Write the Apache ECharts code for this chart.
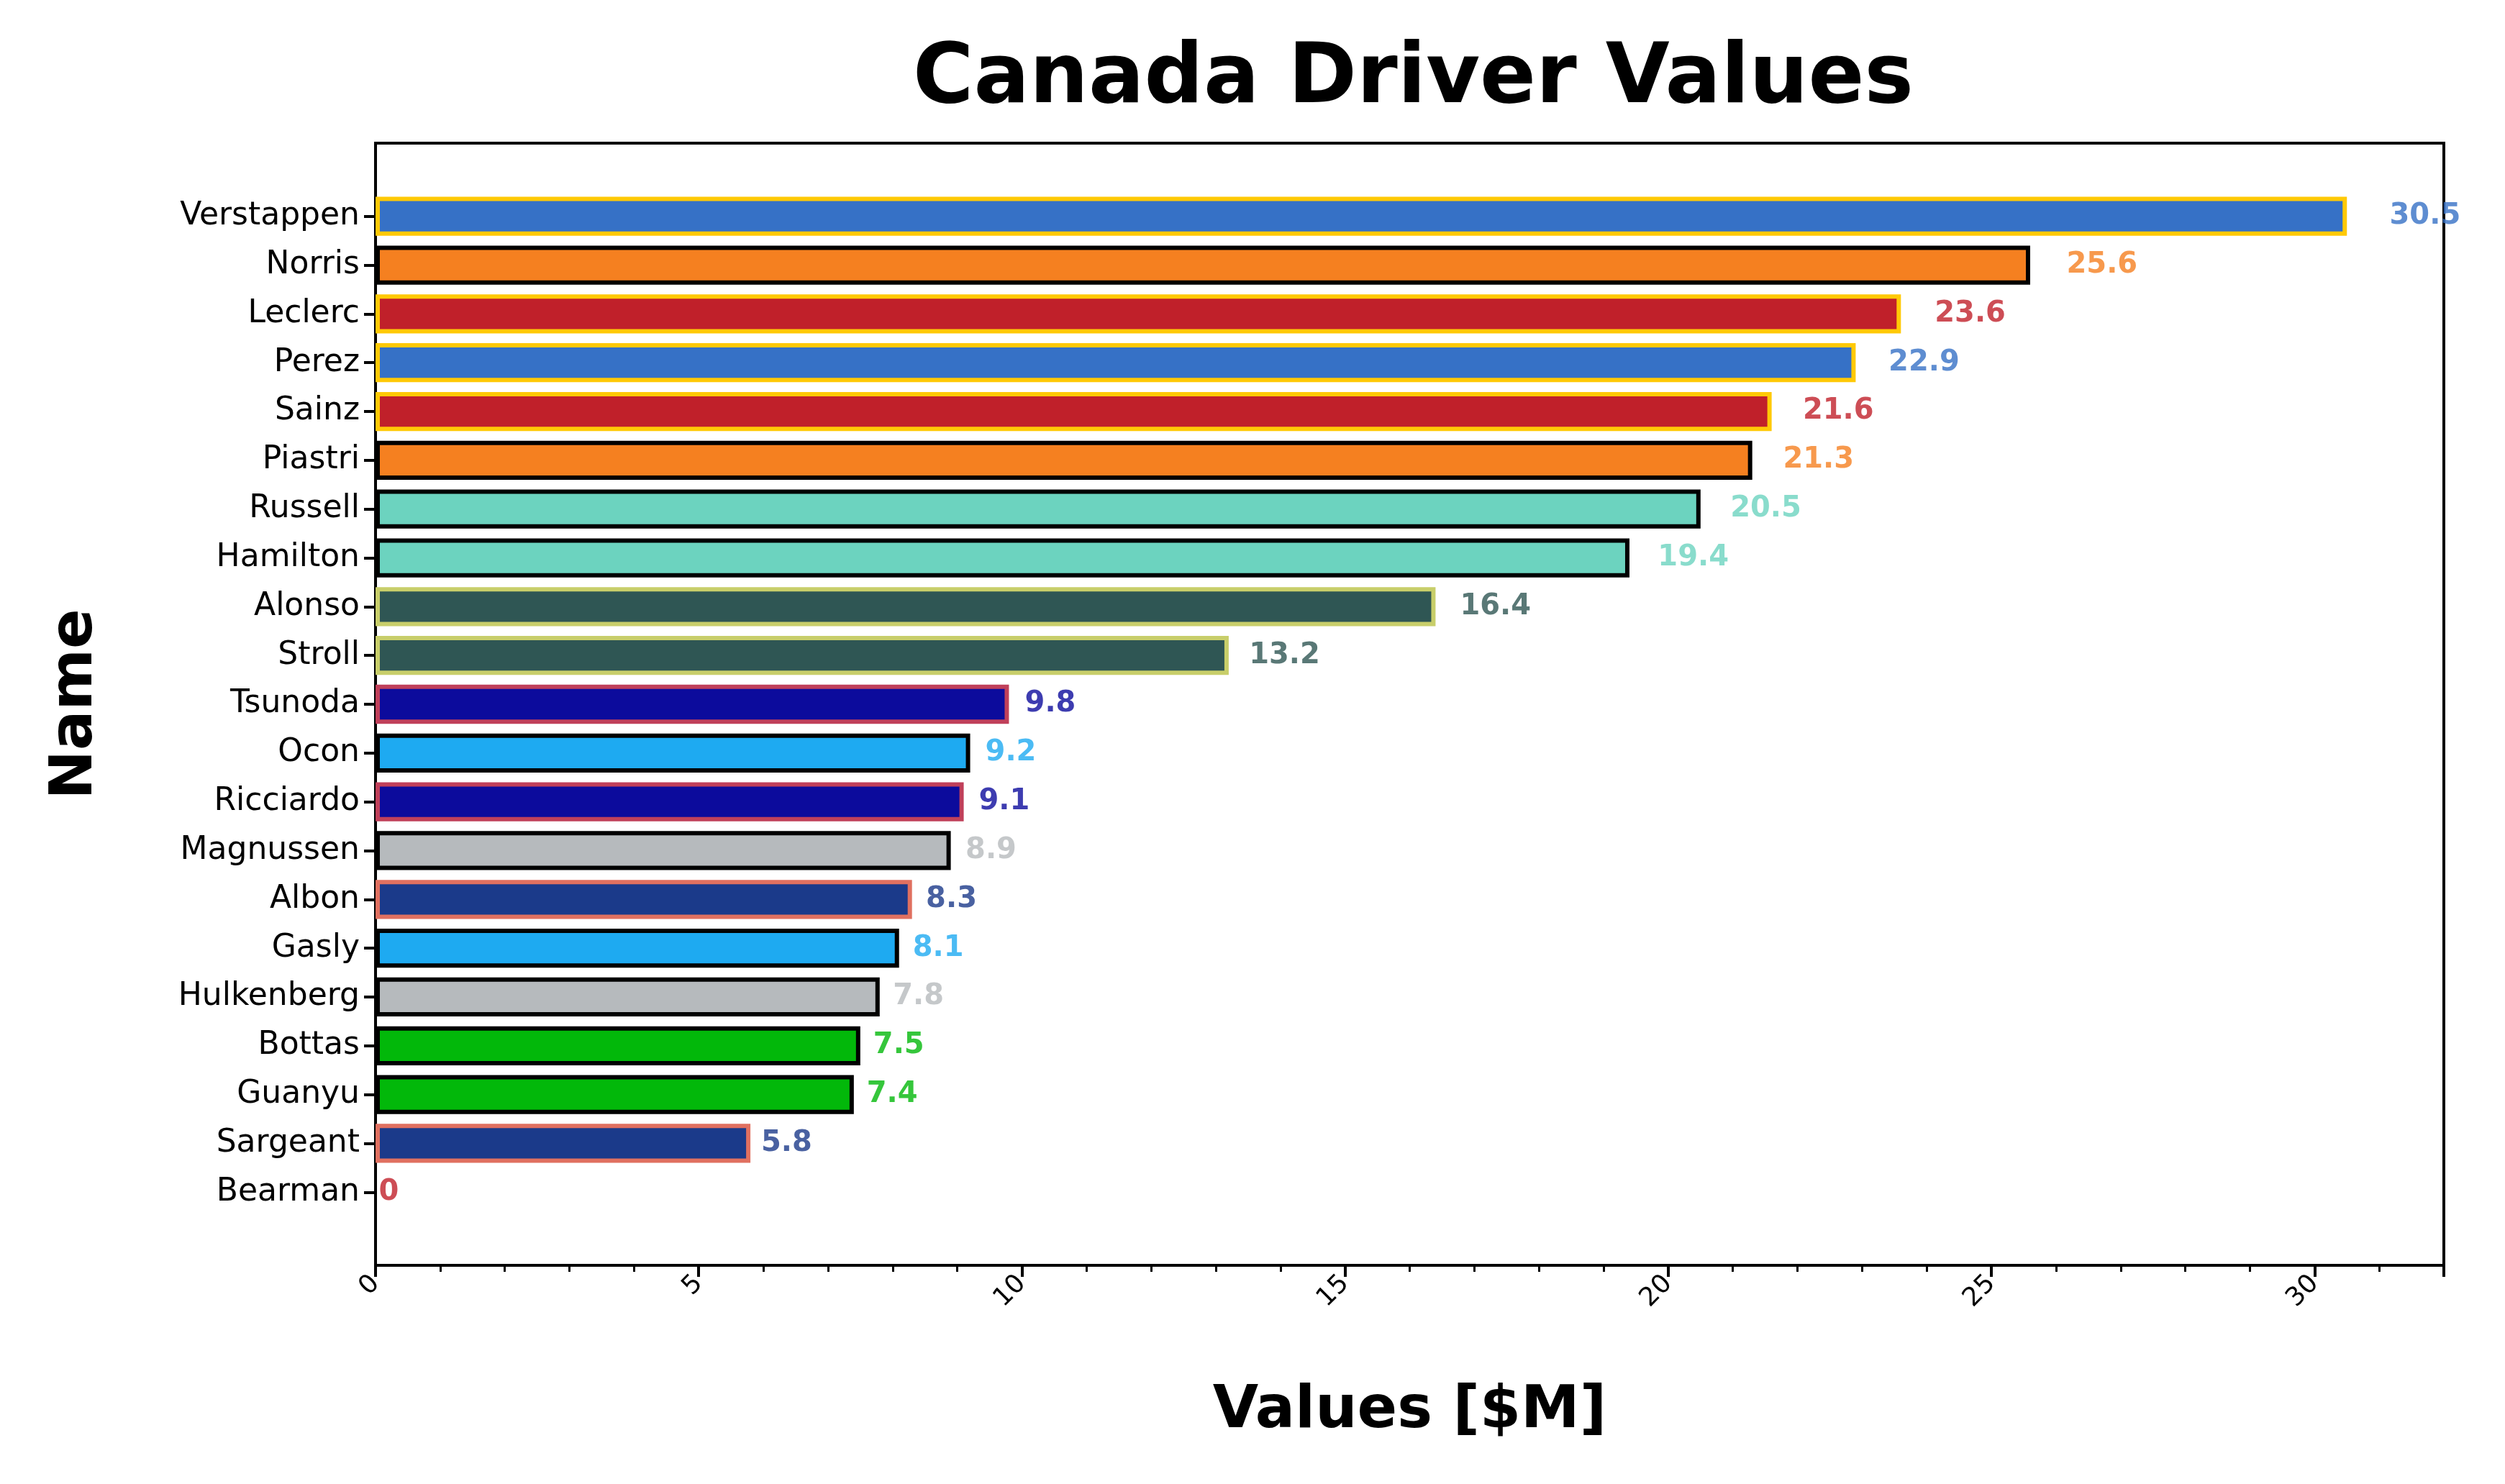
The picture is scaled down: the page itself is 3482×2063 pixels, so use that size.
<!DOCTYPE html>
<html><head><meta charset="utf-8">
<script src="https://cdn.jsdelivr.net/npm/echarts@6/dist/echarts.min.js"></script>
<style>html,body{margin:0;padding:0;background:#fff}#c{width:3482px;height:2063px}</style>
</head><body><div id="c"></div>
<script>
const names = ["Verstappen","Norris","Leclerc","Perez","Sainz","Piastri","Russell","Hamilton","Alonso","Stroll","Tsunoda","Ocon","Ricciardo","Magnussen","Albon","Gasly","Hulkenberg","Bottas","Guanyu","Sargeant","Bearman"];
const values = [30.5,25.6,23.6,22.9,21.6,21.3,20.5,19.4,16.4,13.2,9.8,9.2,9.1,8.9,8.3,8.1,7.8,7.5,7.4,5.8,0];
const fillColors = ["#3671C6","#F58020","#C0202A","#3671C6","#C0202A","#F58020","#6CD3BF","#6CD3BF","#2F5654","#2F5654","#0C0B9C","#1EAAF1","#0C0B9C","#B6BABD","#1B3A8A","#1EAAF1","#B6BABD","#02B80A","#02B80A","#1B3A8A","#C0202A"];
const edgeColors = ["#FFC906","#000000","#FFC906","#FFC906","#FFC906","#000000","#000000","#000000","#C8CE6A","#C8CE6A","#C0405A","#000000","#C0405A","#000000","#E07060","#000000","#000000","#000000","#000000","#E07060","#FFC906"];

const cats = [""].concat(names, [""]);
const barData = [null].concat(values.map((v,i)=>({value:v,itemStyle:{color:fillColors[i],borderColor:edgeColors[i],borderWidth:v===0?0:6}})), [null]);
const lblData = [null].concat(values.map((v,i)=>({value:v*1.02+0.05,label:{formatter:String(v),color:fillColors[i]}})), [null]);
const fs = 44;
const chart = echarts.init(document.getElementById('c'), null, {renderer:'canvas'});
chart.setOption({
  animation:false,
  title:{text:"Canada Driver Values",left:(522+3397)/2,textAlign:'center',top:50,textStyle:{fontFamily:'DejaVu Sans',fontWeight:'bold',fontSize:115,color:'#000'}},
  grid:{left:522,right:3482-3397,top:199,bottom:2063-1759,containLabel:false},
  xAxis:{type:'value',min:0,max:32,interval:5,name:"Values [$M]",nameLocation:'middle',nameGap:163,
    nameTextStyle:{fontFamily:'DejaVu Sans',fontWeight:'bold',fontSize:82,color:'#000'},
    axisLine:{show:true,lineStyle:{color:'#000',width:4}},
    axisTick:{show:true,length:16,lineStyle:{color:'#000',width:4}},
    minorTick:{show:true,splitNumber:5,length:9,lineStyle:{color:'#000',width:3}},
    axisLabel:{rotate:45,fontFamily:'DejaVu Sans',fontSize:36,color:'#000',margin:20,showMaxLabel:false,
      formatter:v=>v>30?'':String(v)},
    splitLine:{show:false}},
  yAxis:{type:'category',data:cats,inverse:true,name:"Name",nameLocation:'middle',nameGap:375,
    nameTextStyle:{fontFamily:'DejaVu Sans',fontWeight:'bold',fontSize:82,color:'#000'},
    axisLine:{show:true,lineStyle:{color:'#000',width:4}},
    axisTick:{show:true,alignWithLabel:true,length:16,interval:(i,v)=>v!=='',lineStyle:{color:'#000',width:4}},
    axisLabel:{fontFamily:'DejaVu Sans',fontSize:fs,color:'#000',margin:22,interval:0}},
  series:[
    {type:'bar',data:barData,barCategoryGap:'20%',z:2},
    {type:'scatter',data:lblData,symbolSize:0,silent:true,z:3,
      label:{show:true,position:'right',distance:0,fontFamily:'DejaVu Sans',fontWeight:'bold',fontSize:40}}
  ]
});
chart.setOption({graphic:[{type:'rect',shape:{x:522,y:199,width:3397-522,height:1759-199},style:{fill:'none',stroke:'#000',lineWidth:4},silent:true}]});
</script></body></html>
